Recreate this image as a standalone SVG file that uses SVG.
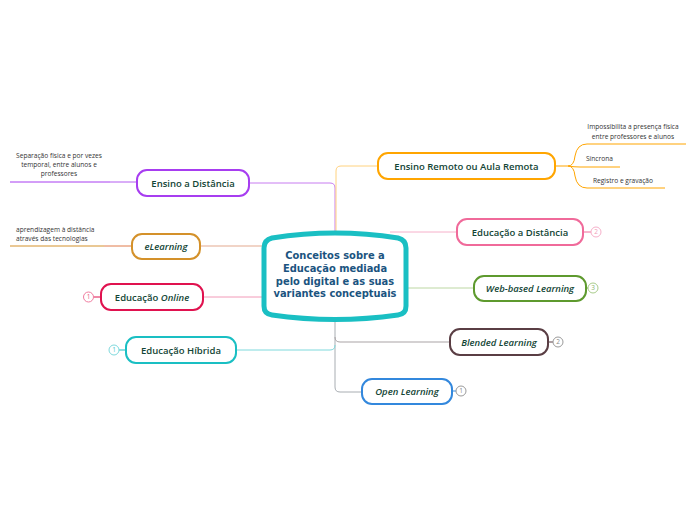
<svg xmlns="http://www.w3.org/2000/svg" width="696" height="520" viewBox="0 0 696 520">
<style>
.node{fill:#fff;stroke-width:2}
.lbl{font-family:"Open Sans","Noto Sans","DejaVu Sans",sans-serif;font-weight:600;font-size:9.5px;fill:#124535;text-anchor:middle}
.it{font-style:italic}
.sub{font-family:"Open Sans","Noto Sans","DejaVu Sans",sans-serif;font-size:6.6px;fill:#333}
.badge{fill:#fff;stroke-width:1}
.bt{font-family:"Open Sans","Noto Sans",sans-serif;font-size:6.5px;text-anchor:middle}
.con{fill:none;stroke-width:1}
.center{font-family:"DejaVu Sans Condensed","DejaVu Sans",sans-serif;font-stretch:condensed;font-weight:700;font-size:11px;fill:#1b5480;text-anchor:middle}
</style>
<rect width="696" height="520" fill="#fff"/>
<g id="connectors">
  <path class="con" d="M249,183 H330 Q335,183 335,188 V240" stroke="#c77df0"/>
  <path class="con" d="M378,166 H341 Q336,166 336,171 V240" stroke="#ffd27f"/>
  <path class="con" d="M200,246 H268" stroke="#e3a98f"/>
  <path class="con" d="M203,297 H268" stroke="#f29ab8"/>
  <path class="con" d="M390,232 H457" stroke="#f6b0ca"/>
  <path class="con" d="M400,288 H474" stroke="#bcd7a3"/>
  <path class="con" d="M335,316 V387 Q335,392 340,392 H362" stroke="#a8adb2"/>
  <path class="con" d="M335,337 Q335,342 340,342 H450" stroke="#a9a3a5"/>
  <path class="con" d="M236,350 H330 Q335,350 335,345" stroke="#7fd9dc"/>
  <path class="con" d="M10,182 H110" stroke="#a73df0" stroke-width="1.6"/>
  <path class="con" d="M110,182 H137" stroke="#b35cf0"/>
  <path class="con" d="M10,246 H104" stroke="#d4912a" stroke-width="1.6"/>
  <path class="con" d="M104,246 H132" stroke="#e07a4a"/>
  <path class="con" d="M555,166 H568 Q574,166 575,156 Q577,144 587,144 H686" stroke="#ffa500"/>
  <path class="con" d="M568,166 Q574,167 580,167 H620" stroke="#ffa500"/>
  <path class="con" d="M568,166 Q574,166 575,176 Q577,188 587,188 H665" stroke="#ffa500"/>
  <path class="con" d="M94,297 H101" stroke="#e0124f"/>
  <path class="con" d="M119,350 H126" stroke="#1abfc3"/>
  <path class="con" d="M583,232 H591" stroke="#f06a9a"/>
  <path class="con" d="M586,288 H588" stroke="#5e9a2e"/>
  <path class="con" d="M548,342 H553" stroke="#5a3e44"/>
  <path class="con" d="M452,391 H456" stroke="#3388dd"/>
</g>
<g id="center">
  <path d="M272,238 Q335,228 398,238 Q406,240 406,248 L406,306 Q406,314 398,315 Q335,324 272,315 Q264,314 264,306 L264,248 Q264,240 272,238 Z" fill="#fff" stroke="#1abfc3" stroke-width="5"/>
  <text class="center" x="335" y="259">Conceitos sobre a</text>
  <text class="center" x="335" y="272">Educação mediada</text>
  <text class="center" x="335" y="284.5">pelo digital e as suas</text>
  <text class="center" x="335" y="296.5">variantes conceptuais</text>
</g>
<g id="ensino-distancia">
  <rect class="node" x="137" y="170" width="112" height="26" rx="10" stroke="#a73df0"/>
  <text class="lbl" x="193" y="186.5">Ensino a Distância</text>
  <text class="sub" text-anchor="middle"><tspan x="59" y="158">Separação física e por vezes</tspan><tspan x="59" y="167">temporal, entre alunos e</tspan><tspan x="59" y="176">professores</tspan></text>
</g>
<g id="elearning">
  <rect class="node" x="132" y="234" width="68" height="25" rx="10" stroke="#d4912a"/>
  <text class="lbl it" x="166" y="249.5">eLearning</text>
  <text class="sub"><tspan x="16" y="232">aprendizagem à distância</tspan><tspan x="16" y="241">através das tecnologias</tspan></text>
</g>
<g id="educacao-online">
  <rect class="node" x="101" y="284" width="102" height="26" rx="10" stroke="#e0124f"/>
  <text class="lbl" x="152" y="300.5">Educação <tspan class="it">Online</tspan></text>
  <circle class="badge" cx="88.5" cy="297" r="5" stroke="#f07ca0"/>
  <text class="bt" x="88.5" y="299.3" fill="#e85a88">1</text>
</g>
<g id="educacao-hibrida">
  <rect class="node" x="126" y="337" width="110" height="26" rx="10" stroke="#1abfc3"/>
  <text class="lbl" x="181" y="353.5">Educação Híbrida</text>
  <circle class="badge" cx="114" cy="350" r="5" stroke="#7fd9dc"/>
  <text class="bt" x="114" y="352.3" fill="#4cc8cc">1</text>
</g>
<g id="ensino-remoto">
  <rect class="node" x="378" y="153" width="177" height="26" rx="10" stroke="#ffa500"/>
  <text class="lbl" x="466.5" y="169.5">Ensino Remoto ou Aula Remota</text>
  <text class="sub" text-anchor="middle"><tspan x="633" y="129">Impossibilita a presença física</tspan><tspan x="633" y="139">entre professores e alunos</tspan></text>
  <text class="sub" x="586" y="161">Síncrona</text>
  <text class="sub" x="593" y="183">Registro e gravação</text>
</g>
<g id="educacao-a-distancia">
  <rect class="node" x="457" y="219" width="126" height="26" rx="10" stroke="#f06a9a"/>
  <text class="lbl" x="520" y="235.5">Educação a Distância</text>
  <circle class="badge" cx="596" cy="232" r="5" stroke="#f6b0ca"/>
  <text class="bt" x="596" y="234.3" fill="#f29ab8">2</text>
</g>
<g id="web-based">
  <rect class="node" x="474" y="276" width="112" height="25" rx="10" stroke="#5e9a2e"/>
  <text class="lbl it" x="530" y="291.5">Web-based Learning</text>
  <circle class="badge" cx="593" cy="288" r="5" stroke="#a9cc8a"/>
  <text class="bt" x="593" y="290.3" fill="#8ab46a">3</text>
</g>
<g id="blended">
  <rect class="node" x="450" y="329" width="98" height="26" rx="10" stroke="#5a3e44"/>
  <text class="lbl it" x="499" y="345.5">Blended Learning</text>
  <circle class="badge" cx="558" cy="342" r="5" stroke="#9a9a9a"/>
  <text class="bt" x="558" y="344.3" fill="#888">2</text>
</g>
<g id="open-learning">
  <rect class="node" x="362" y="379" width="90" height="25" rx="10" stroke="#3388dd"/>
  <text class="lbl it" x="407" y="394.5">Open Learning</text>
  <circle class="badge" cx="461" cy="391" r="5" stroke="#9a9a9a"/>
  <text class="bt" x="461" y="393.3" fill="#888">1</text>
</g>
</svg>
